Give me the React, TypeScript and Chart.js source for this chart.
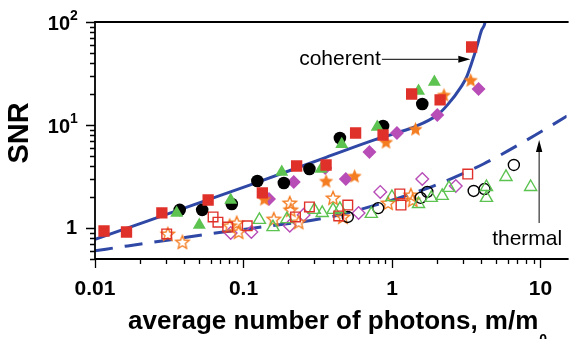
import React, { useEffect, useRef } from 'react';
import { Chart, registerables } from 'chart.js';

Chart.register(...registerables);

type P = [number, number];

// ---------- coherent light (filled markers) ----------
const coherentSquares: P[] = [
  [0.0115, 0.935], [0.0163, 0.915], [0.0282, 1.4], [0.0578, 1.87], [0.134, 2.19], [0.228, 4.0],
  [0.36, 4.09], [0.569, 8.36], [0.871, 8.0], [1.357, 20.0], [2.11, 17.5], [3.44, 57.2],
];
const coherentTriangles: P[] = [
  [0.0355, 1.4], [0.0504, 1.07], [0.082, 1.87], [0.181, 3.5], [0.333, 3.74], [0.459, 6.5],
  [0.796, 9.56], [1.51, 21.4], [1.93, 26.1],
];
const coherentCircles: P[] = [
  [0.0372, 1.5], [0.0527, 1.5], [0.0834, 1.71], [0.124, 2.86], [0.187, 2.73], [0.278, 3.74],
  [0.446, 7.48], [0.871, 9.78], [1.6, 16.0],
];
const coherentStars: P[] = [
  [0.138, 1.91], [0.36, 2.86], [0.56, 3.2], [0.912, 6.84], [1.44, 9.15], [2.24, 19.6], [3.39, 27.3],
];
const coherentDiamonds: P[] = [
  [0.1486, 1.91], [0.218, 2.8], [0.355, 3.83], [0.489, 2.99], [0.705, 5.47], [1.08, 8.36],
  [2.02, 12.5], [3.83, 22.4],
];

// ---------- thermal light (open markers) ----------
const thermalSquares: P[] = [
  [0.0304, 0.875], [0.0624, 1.28], [0.0673, 1.14], [0.0783, 1.02], [0.106, 1.05], [0.224, 1.28],
  [0.278, 1.6], [0.438, 1.31], [0.504, 1.67], [1.13, 2.14], [1.15, 1.67], [3.24, 3.34],
];
const thermalTriangles: P[] = [
  [0.128, 1.2], [0.158, 1.02], [0.196, 1.22], [0.3, 1.5], [0.339, 1.4], [0.401, 1.5], [0.446, 1.53],
  [0.726, 1.37], [1.0, 2.0], [1.51, 1.71], [1.84, 1.96], [2.18, 2.05], [2.42, 2.45], [4.33, 2.5],
  [4.33, 1.96], [5.86, 3.13], [8.59, 2.5],
];
const thermalCircles: P[] = [
  [0.504, 1.28], [0.808, 1.56], [1.56, 1.96], [1.73, 2.24], [3.55, 2.29], [4.2, 2.39], [6.62, 4.09],
];
const thermalStars: P[] = [
  [0.0309, 0.875], [0.0388, 0.731], [0.0807, 1.05], [0.09, 1.12], [0.0927, 0.915], [0.16, 1.22],
  [0.205, 1.75], [0.208, 1.5], [0.235, 1.14], [0.401, 1.96], [0.467, 1.28], [0.942, 1.75],
  [1.34, 2.09], [1.38, 1.87],
];
const thermalDiamonds: P[] = [
  [0.082, 0.894], [0.113, 0.915], [0.205, 1.05], [0.254, 1.34], [0.596, 1.4], [0.834, 2.24],
  [1.6, 2.99], [2.69, 2.56],
];

// ---------- theory curves ----------
const coherentCurveX = [0.01, 0.11, 0.36, 0.77, 1.05, 1.42, 2.02, 2.35, 2.95, 3.19, 3.44, 3.71, 4.01, 4.24, 4.33];
const coherentCurveY = [0.776, 2.61, 4.85, 7.2, 8.3, 9.6, 12.5, 15.5, 24, 29.5, 40, 56, 83, 100, 130];
const thermalCurveX = [0.01, 0.0166, 0.0324, 0.0535, 0.106, 0.343, 0.569, 1.73, 2.54, 4.13, 7.96, 15.1];
const thermalCurveY = [0.6, 0.67, 0.77, 0.86, 0.98, 1.24, 1.47, 2.43, 3.04, 4.18, 7.04, 12.2];

// ---------- axes ----------
const xMin = 0.01;
const xMax = 15;
const yMin = 0.5;
const yMax = 100;
const xTickValues = [0.01, 0.1, 1, 10];
const xTickLabels = ['0.01', '0.1', '1', '10'];
const yTickValues = [1, 10, 100];
const yTickBase = ['1', '10', '10'];
const yTickExp = ['', '1', '2'];
const xTitle = 'average number of photons, m/m';
const xTitleSub = '0';
const yTitle = 'SNR';

// annotations (data coordinates)
const coherentLabel = 'coherent';
const coherentArrowFrom: P = [0.855, 43.4];
const coherentArrowTo: P = [3.37, 43.4];
const thermalLabel = 'thermal';
const thermalArrowFrom: P = [9.8, 1.12];
const thermalArrowTo: P = [9.8, 7.15];
const thermalLabelAt: P = [14.0, 0.684];

const FONT = '"Liberation Sans", Arial, Helvetica, sans-serif';
const RED = '#e0302a';
const GREEN = '#5cc250';
const BLACK = '#000000';
const ORANGE = '#f47d22';
const PURPLE = '#b84db8';
const BLUE = '#2f48a6';

const toPts = (arr: P[]) => arr.map(([x, y]) => ({ x, y }));
const zip = (xs: number[], ys: number[]) => xs.map((x, i) => ({ x, y: ys[i] }));

function makeStar(outerR: number, fill: string | null, stroke: string | null, lw: number): HTMLCanvasElement {
  const size = Math.ceil(outerR * 2 + lw + 4);
  const c = document.createElement('canvas');
  c.width = size;
  c.height = size;
  const ctx = c.getContext('2d')!;
  const cx = size / 2;
  const cy = size / 2 + outerR * 0.08;
  const innerR = outerR * 0.45;
  ctx.beginPath();
  for (let i = 0; i < 10; i++) {
    const r = i % 2 === 0 ? outerR : innerR;
    const a = -Math.PI / 2 + (i * Math.PI) / 5;
    const px = cx + r * Math.cos(a);
    const py = cy + r * Math.sin(a);
    if (i === 0) ctx.moveTo(px, py);
    else ctx.lineTo(px, py);
  }
  ctx.closePath();
  if (fill) {
    ctx.fillStyle = fill;
    ctx.fill();
  }
  if (stroke) {
    ctx.strokeStyle = stroke;
    ctx.lineWidth = lw;
    ctx.lineJoin = 'miter';
    ctx.stroke();
  }
  return c;
}

function drawArrow(ctx: CanvasRenderingContext2D, x1: number, y1: number, x2: number, y2: number, head: number, half: number) {
  const ang = Math.atan2(y2 - y1, x2 - x1);
  const bx = x2 - head * Math.cos(ang);
  const by = y2 - head * Math.sin(ang);
  ctx.beginPath();
  ctx.moveTo(x1, y1);
  ctx.lineTo(bx, by);
  ctx.stroke();
  ctx.beginPath();
  ctx.moveTo(x2, y2);
  ctx.lineTo(bx + half * Math.sin(ang), by - half * Math.cos(ang));
  ctx.lineTo(bx - half * Math.sin(ang), by + half * Math.cos(ang));
  ctx.closePath();
  ctx.fill();
}

const framePlugin = {
  id: 'frame',
  afterDraw(chart: any) {
    const { ctx, chartArea: ca, scales } = chart;
    const xs = scales.x;
    const ys = scales.y;
    ctx.save();
    ctx.strokeStyle = '#000';
    ctx.fillStyle = '#000';

    // frame
    ctx.lineWidth = 1.8;
    ctx.beginPath();
    ctx.moveTo(ca.right + 2, ca.top);
    ctx.lineTo(ca.left, ca.top);
    ctx.lineTo(ca.left, ca.bottom);
    ctx.lineTo(ca.right + 2, ca.bottom);
    ctx.stroke();

    // x ticks
    ctx.lineWidth = 1.3;
    ctx.beginPath();
    for (const v of xTickValues) {
      const px = Math.round(xs.getPixelForValue(v)) + 0.5;
      ctx.moveTo(px, ca.bottom);
      ctx.lineTo(px, ca.bottom + 9);
      for (let k = 2; k <= 9; k++) {
        const mv = v * k;
        if (mv > xMax) break;
        const mp = Math.round(xs.getPixelForValue(mv)) + 0.5;
        ctx.moveTo(mp, ca.bottom);
        ctx.lineTo(mp, ca.bottom + 5);
      }
    }
    // y ticks
    const yDecades = [0.1, 1, 10];
    for (const d of yDecades) {
      for (let k = 2; k <= 9; k++) {
        const mv = d * k;
        if (mv < yMin || mv > yMax) continue;
        const mp = Math.round(ys.getPixelForValue(mv)) + 0.5;
        ctx.moveTo(ca.left, mp);
        ctx.lineTo(ca.left - 5, mp);
      }
    }
    for (const v of yTickValues) {
      const py = Math.round(ys.getPixelForValue(v)) + 0.5;
      ctx.moveTo(ca.left, py);
      ctx.lineTo(ca.left - 9, py);
    }
    ctx.stroke();

    // x tick labels
    ctx.font = `bold 21px ${FONT}`;
    ctx.textAlign = 'center';
    ctx.textBaseline = 'alphabetic';
    xTickValues.forEach((v, i) => {
      ctx.fillText(xTickLabels[i], xs.getPixelForValue(v), ca.bottom + 36);
    });

    // y tick labels
    yTickValues.forEach((v, i) => {
      const py = ys.getPixelForValue(v);
      ctx.font = `bold 20px ${FONT}`;
      ctx.textAlign = 'right';
      if (yTickExp[i]) {
        ctx.fillText(yTickBase[i], ca.left - 25, py + 8);
        ctx.font = `bold 14px ${FONT}`;
        ctx.textAlign = 'left';
        ctx.fillText(yTickExp[i], ca.left - 25, py - 2);
      } else {
        ctx.fillText(yTickBase[i], ca.left - 18, py + 6);
      }
    });

    // axis titles
    ctx.font = `bold 26px ${FONT}`;
    ctx.textAlign = 'left';
    ctx.fillText(xTitle, 128, 329);
    const w = ctx.measureText(xTitle).width;
    ctx.font = `bold 14px ${FONT}`;
    ctx.fillText(xTitleSub, 128 + w + 1, 344);

    ctx.save();
    ctx.translate(19, 133);
    ctx.rotate(-Math.PI / 2);
    ctx.font = `bold 29px ${FONT}`;
    ctx.textAlign = 'center';
    ctx.textBaseline = 'middle';
    ctx.fillText(yTitle, 0, 1);
    ctx.restore();

    // annotations
    ctx.strokeStyle = '#333';
    ctx.fillStyle = '#000';
    ctx.lineWidth = 1.2;
    const cx1 = xs.getPixelForValue(coherentArrowFrom[0]);
    const cy1 = ys.getPixelForValue(coherentArrowFrom[1]);
    const cx2 = xs.getPixelForValue(coherentArrowTo[0]);
    const cy2 = ys.getPixelForValue(coherentArrowTo[1]);
    drawArrow(ctx, cx1, cy1, cx2, cy2, 12, 3.5);
    ctx.font = `21px ${FONT}`;
    ctx.textAlign = 'right';
    ctx.fillText(coherentLabel, cx1 - 1, cy1 + 6);

    const tx1 = xs.getPixelForValue(thermalArrowFrom[0]);
    const ty1 = ys.getPixelForValue(thermalArrowFrom[1]);
    const tx2 = xs.getPixelForValue(thermalArrowTo[0]);
    const ty2 = ys.getPixelForValue(thermalArrowTo[1]);
    drawArrow(ctx, tx1, ty1, tx2, ty2, 12, 3.2);
    ctx.fillText(thermalLabel, xs.getPixelForValue(thermalLabelAt[0]), ys.getPixelForValue(thermalLabelAt[1]));

    ctx.restore();
  },
};

export default function App() {
  const ref = useRef<HTMLCanvasElement>(null);
  useEffect(() => {
    document.body.style.margin = '0';
    const canvas = ref.current!;
    const starFilled = makeStar(7.5, ORANGE, null, 0);
    const starOpen = makeStar(7, null, ORANGE, 1.4);

    const filled = (data: P[], style: any, r: number, color: string) => ({
      data: toPts(data),
      pointStyle: style,
      pointRadius: r,
      pointHoverRadius: r,
      pointBackgroundColor: color,
      pointBorderColor: color,
      pointBorderWidth: 0,
      showLine: false,
    });
    const open = (data: P[], style: any, r: number, color: string) => ({
      data: toPts(data),
      pointStyle: style,
      pointRadius: r,
      pointHoverRadius: r,
      pointBackgroundColor: 'rgba(255,255,255,0)',
      pointBorderColor: color,
      pointBorderWidth: 1.4,
      showLine: false,
    });

    const chart = new Chart(canvas, {
      type: 'scatter',
      data: {
        datasets: [
          filled(coherentSquares, 'rect', 8, RED),
          filled(coherentTriangles, 'triangle', 7.5, GREEN),
          filled(coherentCircles, 'circle', 6.3, BLACK),
          filled(coherentStars, starFilled, 7.5, ORANGE),
          filled(coherentDiamonds, 'rectRot', 7, PURPLE),
          open(thermalSquares, 'rect', 6.8, RED),
          open(thermalTriangles, 'triangle', 7, GREEN),
          open(thermalCircles, 'circle', 5.5, BLACK),
          open(thermalStars, starOpen, 7, ORANGE),
          open(thermalDiamonds, 'rectRot', 6.3, PURPLE),
          {
            data: zip(coherentCurveX, coherentCurveY),
            showLine: true,
            pointRadius: 0,
            borderColor: BLUE,
            borderWidth: 3,
            cubicInterpolationMode: 'monotone',
            clip: 0,
          } as any,
          {
            data: zip(thermalCurveX, thermalCurveY),
            showLine: true,
            pointRadius: 0,
            borderColor: BLUE,
            borderWidth: 3,
            borderDash: [18, 12],
            cubicInterpolationMode: 'monotone',
            clip: 0,
          } as any,
        ],
      },
      options: {
        responsive: false,
        animation: false,
        events: [],
        layout: { padding: { left: 95, top: 22, right: 0, bottom: 80 } },
        plugins: { legend: { display: false }, tooltip: { enabled: false } },
        scales: {
          x: { type: 'logarithmic', min: xMin, max: xMax, display: false },
          y: { type: 'logarithmic', min: yMin, max: yMax, display: false },
        },
      },
      plugins: [framePlugin],
    } as any);
    return () => chart.destroy();
  }, []);
  return (
    <div style={{ width: 575, height: 339 }}>
      <canvas ref={ref} width={575} height={339} style={{ display: 'block', width: 575, height: 339 }} />
    </div>
  );
}
